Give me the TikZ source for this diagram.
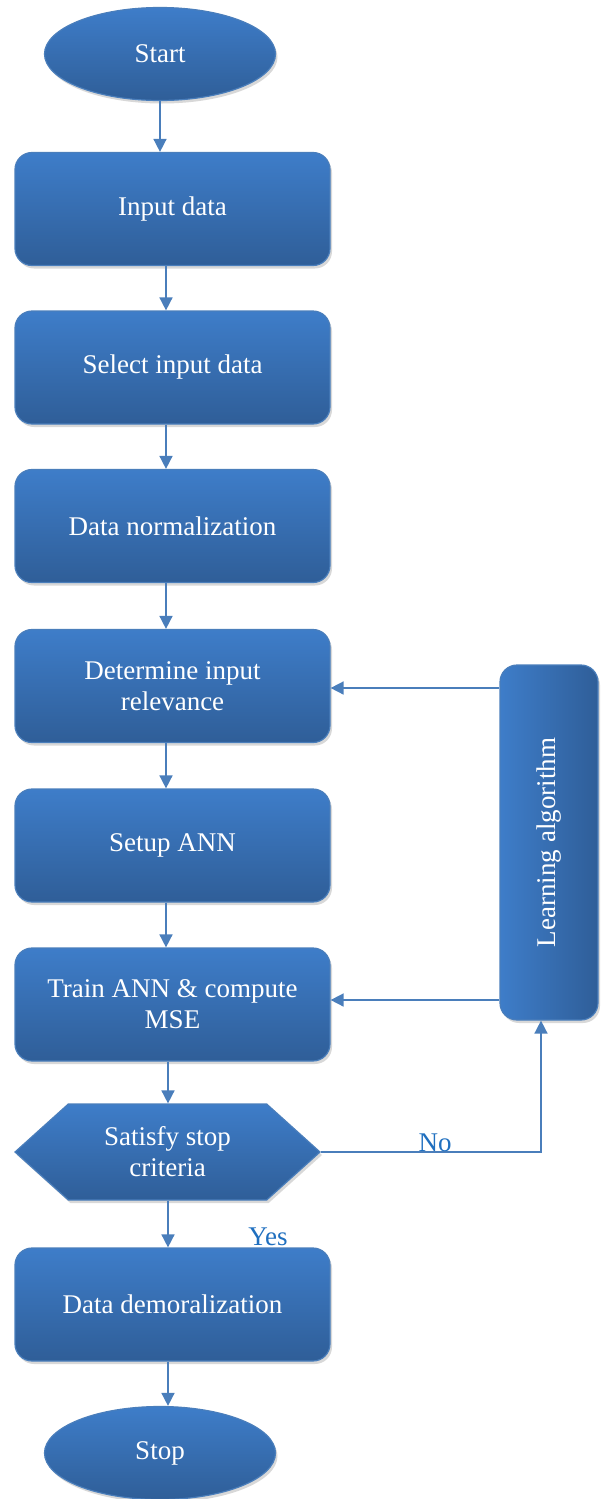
\documentclass[tikz,border=0pt]{standalone}
\usepackage{fontspec}
\setmainfont{Liberation Serif}
\usetikzlibrary{arrows.meta,shapes.geometric,shapes.symbols,shadows}
\definecolor{boxtop}{HTML}{3E7DC9}
\definecolor{boxbot}{HTML}{2F5E98}
\definecolor{edgeblue}{HTML}{4A7EBB}
\definecolor{labblue}{HTML}{1F6FBF}
\tikzset{
  shapebase/.style={draw=edgeblue, line width=1.2pt, text=white,
    top color=boxtop, bottom color=boxbot, align=center,
    font=\fontsize{27}{31}\selectfont,
    drop shadow={shadow xshift=2pt, shadow yshift=-3pt, fill=black!30, opacity=0.5}},
  procbox/.style={shapebase, rectangle, rounded corners=17pt,
    minimum width=315pt, minimum height=113pt, inner sep=0pt},
  term/.style={shapebase, ellipse, minimum width=231pt, minimum height=93pt, inner sep=0pt},
  decis/.style={shapebase, signal, signal to=west and east, signal pointer angle=84,
    minimum width=305pt, minimum height=96pt, inner sep=0pt},
  sidebox/.style={shapebase, rectangle, rounded corners=17pt,
    left color=boxtop, right color=boxbot,
    minimum width=98pt, minimum height=355pt, inner sep=0pt},
  arr/.style={draw=edgeblue, line width=1.6pt, -{Triangle[width=13pt,length=13pt]}},
  lab/.style={text=labblue, font=\fontsize{27}{31}\selectfont}
}
\begin{document}
\begin{tikzpicture}[x=1pt,y=-1pt]
\useasboundingbox (0,0) rectangle (600,1499);
\node[term] (start) at (160,54) {Start};
\node[procbox] (input) at (172.5,209) {Input data};
\node[procbox] (select) at (172.5,367.5) {Select input data};
\node[procbox] (norm) at (172.5,526) {Data normalization};
\node[procbox] (det) at (172.5,686) {Determine input\\relevance};
\node[procbox] (setup) at (172.5,845.5) {Setup ANN};
\node[procbox] (train) at (172.5,1004.5) {Train ANN \& compute\\MSE};
\node[decis] (hex) at (167.5,1152) {Satisfy stop\\criteria};
\node[procbox] (demor) at (172.5,1304.5) {Data demoralization};
\node[term] (stop) at (160,1453) {Stop};
\node[sidebox] (learn) at (549,842.5) {\rotatebox{90}{Learning algorithm}};
\coordinate (cA) at (166,0);
\coordinate (cB) at (168,0);
\coordinate (cN) at (541,0);
\draw[arr] (start.south) -- (input.north -| start.south);
\draw[arr] (input.south -| cA) -- (select.north -| cA);
\draw[arr] (select.south -| cA) -- (norm.north -| cA);
\draw[arr] (norm.south -| cA) -- (det.north -| cA);
\draw[arr] (det.south -| cA) -- (setup.north -| cA);
\draw[arr] (setup.south -| cA) -- (train.north -| cA);
\draw[arr] (train.south -| cB) -- (hex.north -| cB);
\draw[arr] (hex.south -| cB) -- (demor.north -| cB);
\draw[arr] (demor.south -| cB) -- (stop.north -| cB);
\coordinate (d1) at (0,688);
\coordinate (t1) at (0,1000);
\draw[arr] (learn.west |- d1) -- (det.east |- d1);
\draw[arr] (learn.west |- t1) -- (train.east |- t1);
\draw[arr] (hex.east) -| (learn.south -| cN);
\node[lab] (no) at (435,1143) {No};
\node[lab] (yes) at (268,1237) {Yes};
\end{tikzpicture}
\end{document}
